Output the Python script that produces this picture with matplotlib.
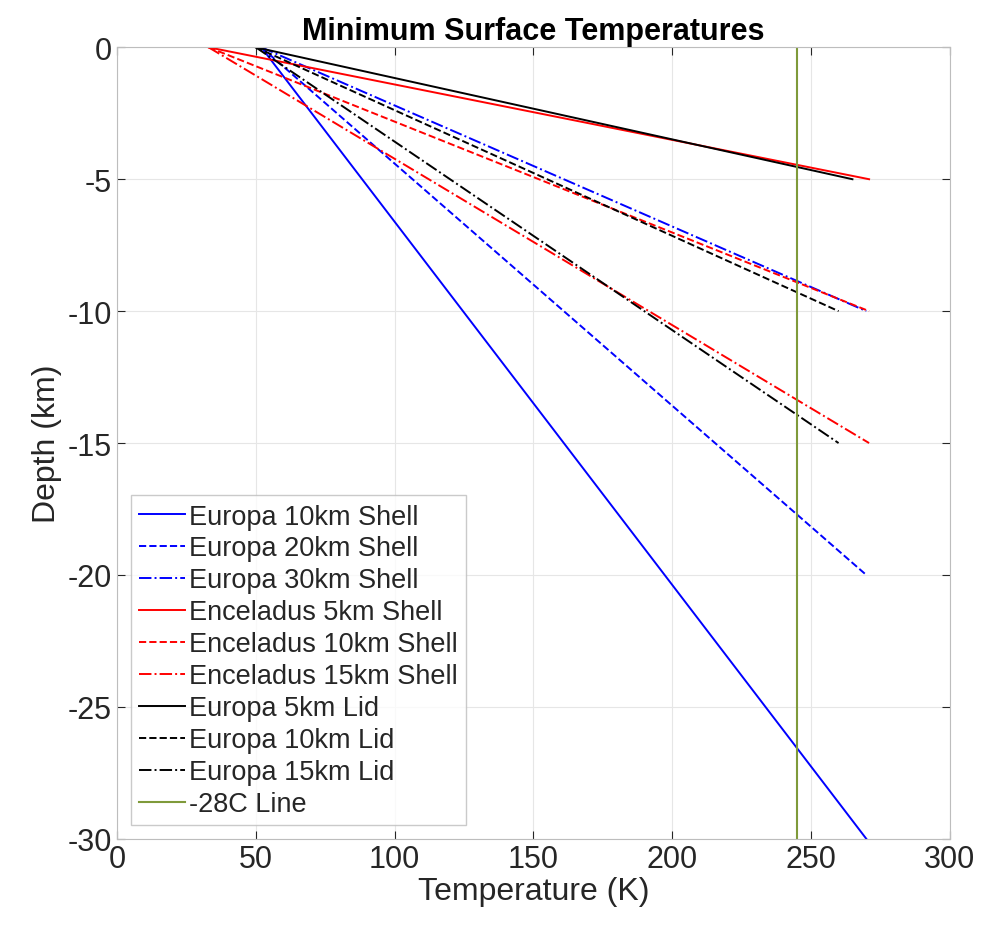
import matplotlib
matplotlib.use('Agg')
import matplotlib.pyplot as plt

plt.rcParams['font.family'] = ['Liberation Sans', 'DejaVu Sans']
plt.rcParams['axes.unicode_minus'] = False

# each profile is a straight line from (surface temp, 0 km) to (base temp, -depth)
labels = ['Europa 10km Shell', 'Europa 20km Shell', 'Europa 30km Shell',
          'Enceladus 5km Shell', 'Enceladus 10km Shell', 'Enceladus 15km Shell',
          'Europa 5km Lid', 'Europa 10km Lid', 'Europa 15km Lid']
t_surface = [52, 52, 52, 33, 33, 33, 50, 50, 50]
t_base = [270, 270, 270, 271, 271, 271, 265, 260, 260]
depth = [-30, -20, -10, -5, -10, -15, -5, -10, -15]
colors = ['b', 'b', 'b', 'r', 'r', 'r', 'k', 'k', 'k']
styles = ['-', '--', '-.', '-', '--', '-.', '-', '--', '-.']

line_28c = 245.15   # -28 C in K
depth_range = [0, -30]

fig = plt.figure(figsize=(9.83, 9.29), dpi=100)
ax = fig.add_axes([0.119, 0.096, 0.847, 0.852])

for i in range(len(labels)):
    ax.plot([t_surface[i], t_base[i]], [0, depth[i]], color=colors[i],
            linestyle=styles[i], linewidth=1.4, label=labels[i])
ax.plot([line_28c, line_28c], depth_range, color='#7f9a3a', linewidth=1.5,
        label='-28C Line')

ax.set_xlim(0, 300)
ax.set_ylim(-30, 0)
ax.set_xticks(range(0, 301, 50))
ax.set_yticks(range(-30, 1, 5))
ax.grid(True, color='#e6e6e6', linewidth=0.8)
ax.tick_params(direction='in', labelsize=22, colors='#262626', length=6,
               top=True, right=True)
for s in ax.spines.values():
    s.set_color('#bdbdbd')

ax.set_xlabel('Temperature (K)', fontsize=23, color='#262626', labelpad=2)
ax.set_ylabel('Depth (km)', fontsize=23, color='#262626', labelpad=4)
ax.set_title('Minimum Surface Temperatures', fontsize=22, fontweight='bold', pad=6)

leg = ax.legend(loc='lower left', fontsize=19.5, frameon=True, fancybox=False,
                edgecolor='#bdbdbd', handlelength=1.7, handletextpad=0.15,
                labelspacing=0.22, borderaxespad=0.5, borderpad=0.3)
for t in leg.get_texts():
    t.set_color('#262626')

fig.savefig('out.png', dpi=100)
